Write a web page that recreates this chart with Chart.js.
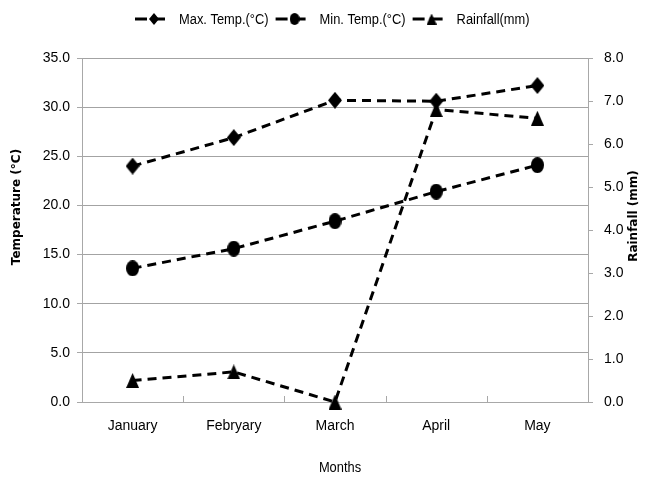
<!DOCTYPE html>
<html>
<head>
<meta charset="utf-8">
<script src="https://cdn.jsdelivr.net/npm/chart.js@4/dist/chart.umd.min.js"></script>
<style>
  html, body { margin: 0; padding: 0; background: #ffffff; }
  #wrap { width: 653px; height: 477px; position: relative; }
</style>
</head>
<body>
<div id="wrap"><canvas id="c" width="653" height="477"></canvas></div>
<script>
// Monthly climate record
const months   = ['January', 'Febryary', 'March', 'April', 'May'];
const maxTemp  = [24.0, 26.9, 30.7, 30.6, 32.2];   // °C
const minTemp  = [13.6, 15.6, 18.4, 21.4, 24.1];   // °C
const rainfall = [0.5, 0.7, 0.0, 6.8, 6.6];        // mm

const seriesNames = ['Max. Temp.(°C)', 'Min. Temp.(°C)', 'Rainfall(mm)'];
const tempAxis = { min: 0, max: 35, step: 5 };
const rainAxis = { min: 0, max: 8, step: 1 };

const LABEL_FONT = "'Liberation Sans', Arial, sans-serif";
const TITLE_FONT = "'DejaVu Sans', Verdana, sans-serif";
const GRID = '#a3a3a3';
const AXIS = '#a8a8a8';
const NARROW = 0.92;   // horizontal squeeze for legend / x title text

// Marker sprites: slightly tall shapes, filled black
function marker(shape, w, h) {
  const cv = document.createElement('canvas');
  cv.width = w; cv.height = h;
  const g = cv.getContext('2d');
  g.fillStyle = '#000';
  g.beginPath();
  if (shape === 'diamond') {
    g.moveTo(w / 2, 0); g.lineTo(w, h / 2); g.lineTo(w / 2, h); g.lineTo(0, h / 2);
  } else if (shape === 'circle') {
    g.ellipse(w / 2, h / 2, w / 2, h / 2, 0, 0, Math.PI * 2);
  } else {
    g.moveTo(w / 2, 0); g.lineTo(w, h); g.lineTo(0, h);
  }
  g.closePath();
  g.fill();
  return cv;
}
const markers = [marker('diamond', 14, 17), marker('circle', 13, 16), marker('triangle', 13, 15)];
const legendMarkers = [marker('diamond', 10, 12), marker('circle', 10, 12), marker('triangle', 10, 11)];

function lineSet(label, data, idx, axis) {
  return {
    label, data, yAxisID: axis,
    borderColor: '#000', backgroundColor: '#000',
    borderWidth: 3, borderDash: [9, 6], tension: 0, fill: false,
    pointStyle: markers[idx], pointRadius: 7, pointHoverRadius: 7,
    clip: false
  };
}

function narrowText(ctx, text, x, y, align) {
  ctx.save();
  ctx.translate(x, y);
  ctx.scale(NARROW, 1);
  ctx.textAlign = align;
  ctx.fillText(text, 0, 0);
  ctx.restore();
}

// Legend, axis titles and inward category ticks
const decor = {
  id: 'decor',
  beforeDatasetsDraw(chart) {
    const { ctx, scales: { x } } = chart;
    const b = x.top;
    ctx.save();
    ctx.strokeStyle = AXIS; ctx.lineWidth = 1;
    for (let i = 1; i < months.length; i++) {
      const px = Math.round((x.getPixelForValue(i - 1) + x.getPixelForValue(i)) / 2) + 0.5;
      ctx.beginPath(); ctx.moveTo(px, b); ctx.lineTo(px, b - 6); ctx.stroke();
    }
    ctx.restore();
  },
  afterDraw(chart) {
    const { ctx } = chart;
    ctx.save();
    ctx.fillStyle = '#000';
    ctx.textBaseline = 'middle';
    // axis titles
    ctx.font = 'bold 12px ' + TITLE_FONT;
    ctx.textAlign = 'center';
    ctx.save(); ctx.translate(17, 207); ctx.rotate(-Math.PI / 2);
    ctx.fillText('Temperature (°C)', 0, 0); ctx.restore();
    ctx.save(); ctx.translate(634, 216); ctx.rotate(-Math.PI / 2);
    ctx.fillText('Rainfall (mm)', 0, 0); ctx.restore();
    ctx.font = '14px ' + LABEL_FONT;
    narrowText(ctx, 'Months', 340, 468, 'center');

    // legend
    const widths = seriesNames.map(s => ctx.measureText(s).width * NARROW);
    const itemW = widths.map(w => 44 + w);
    const gap = 7;
    const total = itemW.reduce((a, v) => a + v, 0) + gap * (itemW.length - 1);
    let lx = Math.round(332 - total / 2);
    const ly = 19;
    seriesNames.forEach((name, i) => {
      ctx.strokeStyle = '#000'; ctx.lineWidth = 3;
      ctx.beginPath(); ctx.moveTo(lx, ly); ctx.lineTo(lx + 12, ly); ctx.stroke();
      ctx.beginPath(); ctx.moveTo(lx + 17, ly); ctx.lineTo(lx + 30, ly); ctx.stroke();
      const m = legendMarkers[i];
      ctx.drawImage(m, lx + 19 - m.width / 2, ly - m.height / 2);
      narrowText(ctx, name, lx + 44, ly + 1, 'left');
      lx += itemW[i] + gap;
    });
    ctx.restore();
  }
};

const tickFont = { family: LABEL_FONT, size: 14 };

new Chart(document.getElementById('c'), {
  type: 'line',
  data: {
    labels: months,
    datasets: [
      lineSet(seriesNames[0], maxTemp, 0, 'y'),
      lineSet(seriesNames[1], minTemp, 1, 'y'),
      lineSet(seriesNames[2], rainfall, 2, 'y1')
    ]
  },
  options: {
    responsive: false,
    devicePixelRatio: 1,
    animation: false,
    layout: { padding: { top: 58, left: 0, right: 0, bottom: 0 } },
    plugins: { legend: { display: false }, tooltip: { enabled: false } },
    scales: {
      x: {
        offset: true,
        grid: { display: false },
        border: { display: true, color: AXIS, width: 1 },
        ticks: { color: '#000', font: tickFont, padding: 8, maxRotation: 0 },
        afterFit(s) { s.height = 75; s.paddingLeft = 0; s.paddingRight = 0; }
      },
      y: {
        position: 'left',
        min: tempAxis.min, max: tempAxis.max,
        grid: { color: GRID, lineWidth: 1, tickLength: 5, tickColor: AXIS },
        border: { display: true, color: AXIS, width: 1 },
        ticks: { stepSize: tempAxis.step, color: '#000', font: tickFont, padding: 7,
                 callback: v => Number(v).toFixed(1) },
        afterFit(s) { s.width = 82; s.paddingTop = 0; s.paddingBottom = 0; }
      },
      y1: {
        position: 'right',
        min: rainAxis.min, max: rainAxis.max,
        grid: { drawOnChartArea: false, tickLength: 5, tickColor: AXIS },
        border: { display: true, color: AXIS, width: 1 },
        ticks: { stepSize: rainAxis.step, color: '#000', font: tickFont, padding: 11,
                 callback: v => Number(v).toFixed(1) },
        afterFit(s) { s.width = 65; s.paddingTop = 0; s.paddingBottom = 0; }
      }
    }
  },
  plugins: [decor]
});
</script>
</body>
</html>
